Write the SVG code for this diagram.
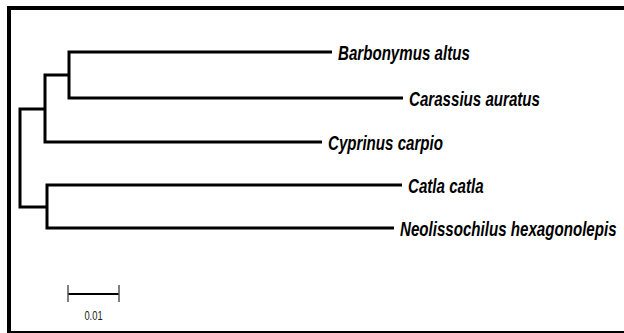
<svg xmlns="http://www.w3.org/2000/svg" width="624" height="333" viewBox="0 0 624 333">
  <style>
    .br { fill: none; stroke: #000; stroke-width: 3; stroke-linejoin: miter; stroke-linecap: butt; }
    .lbl { font-family: "Liberation Sans", Arial, sans-serif; font-size: 21px; font-weight: bold; font-style: italic; fill: #000; }
    .sc { font-family: "Liberation Sans", Arial, sans-serif; font-size: 13px; fill: #222; }
  </style>
  <rect x="0" y="0" width="624" height="333" fill="#fff"/>
  <g id="frame" fill="#000">
    <rect x="7" y="6" width="617" height="4"/>
    <rect x="7" y="6" width="4" height="327"/>
    <rect x="7" y="331" width="617" height="2"/>
  </g>
  <g id="connectors">
    <path class="br" d="M332,52 H69 V98 H403"/>
    <path class="br" d="M69,75 H45 V142 H322"/>
    <path class="br" d="M402,185 H47 V228 H394"/>
    <path class="br" d="M45,109 H20 V207 H47"/>
  </g>
  <g id="barbonymus-altus"><text class="lbl" transform="translate(338,59.5) scale(0.72,1)">Barbonymus altus</text></g>
  <g id="carassius-auratus"><text class="lbl" transform="translate(409,105.5) scale(0.72,1)">Carassius auratus</text></g>
  <g id="cyprinus-carpio"><text class="lbl" transform="translate(328,149.5) scale(0.72,1)">Cyprinus carpio</text></g>
  <g id="catla-catla"><text class="lbl" transform="translate(408,192.5) scale(0.72,1)">Catla catla</text></g>
  <g id="neolissochilus-hexagonolepis"><text class="lbl" transform="translate(400,235.5) scale(0.72,1)">Neolissochilus hexagonolepis</text></g>
  <g id="scale-bar">
    <line x1="68" y1="294" x2="119" y2="294" stroke="#000" stroke-width="2"/>
    <line x1="68" y1="285" x2="68" y2="302" stroke="#555" stroke-width="1.5"/>
    <line x1="119" y1="285" x2="119" y2="302" stroke="#555" stroke-width="1.5"/>
    <text class="sc" transform="translate(93.5,320) scale(0.72,1)" text-anchor="middle">0.01</text>
  </g>
</svg>
